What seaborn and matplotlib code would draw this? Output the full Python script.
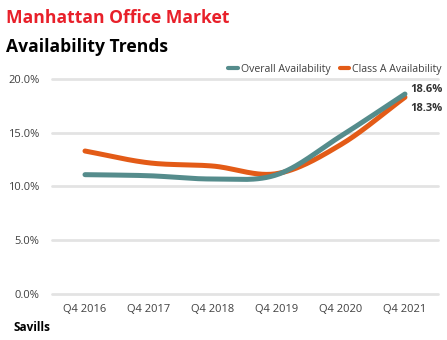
import numpy as np
import pandas as pd
import matplotlib
matplotlib.use("Agg")
import matplotlib.pyplot as plt
import seaborn as sns
from matplotlib.lines import Line2D

categories = ["Q4 2016", "Q4 2017", "Q4 2018", "Q4 2019", "Q4 2020", "Q4 2021"]
overall = [11.1, 11.0, 10.7, 11.1, 14.7, 18.6]
class_a = [13.3, 12.2, 11.9, 11.2, 13.9, 18.3]
series_names = ["Overall Availability", "Class A Availability"]
yticks = [0, 5, 10, 15, 20]

colors = {"Overall Availability": "#558C8C", "Class A Availability": "#E35B17"}

sns.set_theme(style="white")
plt.rcParams["font.family"] = ["Open Sans", "DejaVu Sans"]


def smooth(xs, ys, n=30):
    # Catmull-Rom spline through the data points (for drawing only)
    xs = np.asarray(xs, float)
    ys = np.asarray(ys, float)
    px = np.concatenate([[2 * xs[0] - xs[1]], xs, [2 * xs[-1] - xs[-2]]])
    py = np.concatenate([[2 * ys[0] - ys[1]], ys, [2 * ys[-1] - ys[-2]]])
    out_x, out_y = [], []
    t = np.linspace(0, 1, n, endpoint=False)
    for i in range(1, len(px) - 2):
        for arr, out in ((px, out_x), (py, out_y)):
            p0, p1, p2, p3 = arr[i - 1], arr[i], arr[i + 1], arr[i + 2]
            out.extend(0.5 * ((2 * p1) + (-p0 + p2) * t
                              + (2 * p0 - 5 * p1 + 4 * p2 - p3) * t ** 2
                              + (-p0 + 3 * p1 - 3 * p2 + p3) * t ** 3))
    out_x.append(xs[-1])
    out_y.append(ys[-1])
    return np.array(out_x), np.array(out_y)


rows = []
for name, vals in zip(series_names, [overall, class_a]):
    sx, sy = smooth(range(len(categories)), vals)
    for a, b in zip(sx, sy):
        rows.append({"x": a, "value": b, "series": name})
df = pd.DataFrame(rows)

fig = plt.figure(figsize=(4.47, 3.40), dpi=100)
ax = fig.add_axes([0.1163, 0.1353, 0.8635, 0.6324])

for y in yticks:
    ax.axhline(y, color="#E3E3E3", lw=2, zorder=0, clip_on=False)

sns.lineplot(data=df, x="x", y="value", hue="series", hue_order=series_names[::-1],
             palette=colors, linewidth=3.6, ax=ax, legend=False, sort=False,
             estimator=None)
for line in ax.lines:
    line.set_solid_capstyle("round")

ax.set_xlim(-0.516, 5.516)
ax.set_ylim(0, 20)
ax.set_xticks(range(len(categories)))
ax.set_xticklabels(categories)
ax.set_yticks(yticks)
ax.set_yticklabels([f"{v:.1f}%" for v in yticks])
ax.tick_params(axis="both", length=0, labelsize=8, colors="#404040")
ax.tick_params(axis="x", pad=7)
ax.tick_params(axis="y", pad=9)
ax.set_xlabel("")
ax.set_ylabel("")
for s in ax.spines.values():
    s.set_visible(False)

# end labels
ax.text(5.08, overall[-1] + 0.45, f"{overall[-1]:.1f}%", fontsize=8, fontweight="bold",
        color="#333333", ha="left", va="center")
ax.text(5.08, class_a[-1] - 1.0, f"{class_a[-1]:.1f}%", fontsize=8, fontweight="bold",
        color="#333333", ha="left", va="center")

handles = [Line2D([], [], color=colors[n], lw=3) for n in series_names]
leg = fig.legend(handles, series_names, loc="upper right", bbox_to_anchor=(1.01, 0.841),
                 ncol=2, frameon=False, fontsize=7.6, handlelength=0.9,
                 handletextpad=0.3, columnspacing=0.9, labelcolor="#404040")

fig.text(0.013, 0.947, "Manhattan Office Market", fontsize=12.6, fontweight="bold",
         color="#E8202A", ha="left", va="center")
fig.text(0.013, 0.862, "Availability Trends", fontsize=12.6, fontweight="bold",
         color="black", ha="left", va="center")
fig.text(0.031, 0.038, "Savills", fontsize=8.5, fontweight="bold",
         color="black", ha="left", va="center")

fig.savefig("out.png", dpi=100)
